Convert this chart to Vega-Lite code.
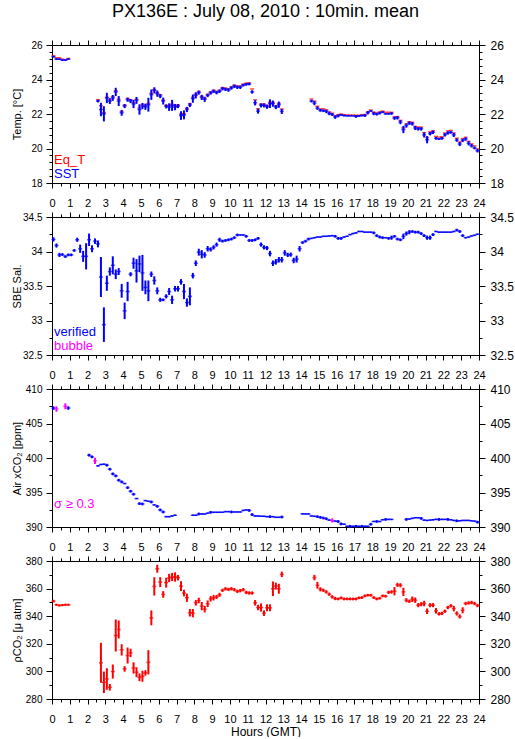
{
"$schema": "https://vega.github.io/schema/vega-lite/v6.json",
"autosize": {"type": "pad"},
"padding": {"left": 10, "top": 3, "right": 0, "bottom": 0},
"background": "white",
"title": {"text": "PX136E : July 08, 2010 : 10min. mean", "fontSize": 18, "fontWeight": "normal", "font": "Liberation Sans", "anchor": "middle", "frame": "group", "offset": 18, "color": "black"},
"config": {
  "font": "Liberation Sans",
  "view": {"stroke": null},
  "axis": {"labelFont": "Liberation Sans", "labelColor": "black", "tickColor": "black", "domainColor": "black", "grid": false, "labelOverlap": false, "labelFlush": false, "labelBound": false, "titleFontWeight": "normal", "titleColor": "black", "titleFont": "Liberation Sans", "tickWidth": 1, "domainWidth": 1},
  "legend": {"labelFont": "Liberation Sans"}
},
"datasets": {
"temp": [
{"t":0.083,"v":25.38,"e":0,"s":"Eq_T"},{"t":0.25,"v":25.26,"e":0,"s":"Eq_T"},{"t":0.417,"v":25.26,"e":0,"s":"Eq_T"},{"t":0.583,"v":25.18,"e":0,"s":"Eq_T"},{"t":0.75,"v":25.15,"e":0,"s":"Eq_T"},{"t":0.917,"v":25.22,"e":0,"s":"Eq_T"},
{"t":2.583,"v":22.83,"e":0,"s":"Eq_T"},{"t":2.75,"v":22.48,"e":0,"s":"Eq_T"},{"t":2.917,"v":22.08,"e":0,"s":"Eq_T"},{"t":3.083,"v":22.97,"e":0,"s":"Eq_T"},{"t":3.25,"v":22.83,"e":0,"s":"Eq_T"},{"t":3.417,"v":23.0,"e":0,"s":"Eq_T"},{"t":3.583,"v":23.35,"e":0,"s":"Eq_T"},{"t":3.75,"v":22.85,"e":0,"s":"Eq_T"},{"t":3.917,"v":22.15,"e":0,"s":"Eq_T"},{"t":4.083,"v":22.52,"e":0,"s":"Eq_T"},{"t":4.25,"v":22.9,"e":0,"s":"Eq_T"},{"t":4.417,"v":22.83,"e":0,"s":"Eq_T"},{"t":4.583,"v":22.65,"e":0,"s":"Eq_T"},{"t":4.75,"v":22.85,"e":0,"s":"Eq_T"},{"t":4.917,"v":22.35,"e":0,"s":"Eq_T"},{"t":5.083,"v":22.55,"e":0,"s":"Eq_T"},{"t":5.25,"v":22.5,"e":0,"s":"Eq_T"},{"t":5.417,"v":22.62,"e":0,"s":"Eq_T"},{"t":5.583,"v":23.2,"e":0,"s":"Eq_T"},{"t":5.75,"v":23.42,"e":0,"s":"Eq_T"},{"t":5.917,"v":23.25,"e":0,"s":"Eq_T"},{"t":6.083,"v":23.12,"e":0,"s":"Eq_T"},{"t":6.25,"v":22.8,"e":0,"s":"Eq_T"},{"t":6.417,"v":22.5,"e":0,"s":"Eq_T"},{"t":6.583,"v":22.47,"e":0,"s":"Eq_T"},{"t":6.75,"v":22.56,"e":0,"s":"Eq_T"},{"t":6.917,"v":22.47,"e":0,"s":"Eq_T"},{"t":7.083,"v":22.52,"e":0,"s":"Eq_T"},{"t":7.25,"v":22.0,"e":0,"s":"Eq_T"},{"t":7.417,"v":22.02,"e":0,"s":"Eq_T"},{"t":7.583,"v":22.33,"e":0,"s":"Eq_T"},{"t":7.75,"v":22.6,"e":0,"s":"Eq_T"},{"t":7.917,"v":22.97,"e":0,"s":"Eq_T"},{"t":8.083,"v":23.15,"e":0,"s":"Eq_T"},{"t":8.25,"v":23.3,"e":0,"s":"Eq_T"},{"t":8.417,"v":23.03,"e":0,"s":"Eq_T"},{"t":8.583,"v":22.92,"e":0,"s":"Eq_T"},{"t":8.75,"v":23.14,"e":0,"s":"Eq_T"},{"t":8.917,"v":23.28,"e":0,"s":"Eq_T"},{"t":9.083,"v":23.38,"e":0,"s":"Eq_T"},{"t":9.25,"v":23.3,"e":0,"s":"Eq_T"},{"t":9.417,"v":23.38,"e":0,"s":"Eq_T"},{"t":9.583,"v":23.53,"e":0,"s":"Eq_T"},{"t":9.75,"v":23.5,"e":0,"s":"Eq_T"},{"t":9.917,"v":23.46,"e":0,"s":"Eq_T"},{"t":10.083,"v":23.58,"e":0,"s":"Eq_T"},{"t":10.25,"v":23.67,"e":0,"s":"Eq_T"},{"t":10.417,"v":23.62,"e":0,"s":"Eq_T"},{"t":10.583,"v":23.62,"e":0,"s":"Eq_T"},{"t":10.75,"v":23.73,"e":0,"s":"Eq_T"},{"t":10.917,"v":23.79,"e":0,"s":"Eq_T"},{"t":11.083,"v":23.8,"e":0,"s":"Eq_T"},{"t":11.25,"v":23.45,"e":0,"s":"Eq_T"},{"t":11.417,"v":22.82,"e":0,"s":"Eq_T"},{"t":11.583,"v":22.3,"e":0,"s":"Eq_T"},{"t":11.75,"v":22.57,"e":0,"s":"Eq_T"},{"t":11.917,"v":22.57,"e":0,"s":"Eq_T"},{"t":12.083,"v":22.5,"e":0,"s":"Eq_T"},{"t":12.25,"v":22.67,"e":0,"s":"Eq_T"},{"t":12.417,"v":22.67,"e":0,"s":"Eq_T"},{"t":12.583,"v":22.47,"e":0,"s":"Eq_T"},{"t":12.75,"v":22.62,"e":0,"s":"Eq_T"},{"t":12.917,"v":22.28,"e":0,"s":"Eq_T"},
{"t":14.583,"v":22.87,"e":0,"s":"Eq_T"},{"t":14.75,"v":22.75,"e":0,"s":"Eq_T"},{"t":14.917,"v":22.45,"e":0,"s":"Eq_T"},{"t":15.083,"v":22.3,"e":0,"s":"Eq_T"},{"t":15.25,"v":22.3,"e":0,"s":"Eq_T"},{"t":15.417,"v":22.24,"e":0,"s":"Eq_T"},{"t":15.583,"v":22.12,"e":0,"s":"Eq_T"},{"t":15.75,"v":22.05,"e":0,"s":"Eq_T"},{"t":15.917,"v":21.9,"e":0,"s":"Eq_T"},{"t":16.083,"v":21.96,"e":0,"s":"Eq_T"},{"t":16.25,"v":22.0,"e":0,"s":"Eq_T"},{"t":16.417,"v":21.96,"e":0,"s":"Eq_T"},{"t":16.583,"v":21.94,"e":0,"s":"Eq_T"},{"t":16.75,"v":21.94,"e":0,"s":"Eq_T"},{"t":16.917,"v":21.94,"e":0,"s":"Eq_T"},{"t":17.083,"v":21.92,"e":0,"s":"Eq_T"},{"t":17.25,"v":21.93,"e":0,"s":"Eq_T"},{"t":17.417,"v":21.96,"e":0,"s":"Eq_T"},{"t":17.583,"v":21.97,"e":0,"s":"Eq_T"},{"t":17.75,"v":22.12,"e":0,"s":"Eq_T"},{"t":17.917,"v":22.23,"e":0,"s":"Eq_T"},{"t":18.083,"v":22.1,"e":0,"s":"Eq_T"},{"t":18.25,"v":22.06,"e":0,"s":"Eq_T"},{"t":18.417,"v":22.12,"e":0,"s":"Eq_T"},{"t":18.583,"v":22.17,"e":0,"s":"Eq_T"},{"t":18.75,"v":22.1,"e":0,"s":"Eq_T"},{"t":18.917,"v":22.1,"e":0,"s":"Eq_T"},{"t":19.083,"v":22.1,"e":0,"s":"Eq_T"},{"t":19.25,"v":21.83,"e":0,"s":"Eq_T"},{"t":19.417,"v":21.85,"e":0,"s":"Eq_T"},{"t":19.583,"v":21.63,"e":0,"s":"Eq_T"},{"t":19.75,"v":21.2,"e":0,"s":"Eq_T"},{"t":19.917,"v":21.42,"e":0,"s":"Eq_T"},{"t":20.083,"v":21.55,"e":0,"s":"Eq_T"},{"t":20.25,"v":21.52,"e":0,"s":"Eq_T"},{"t":20.417,"v":21.28,"e":0,"s":"Eq_T"},{"t":20.583,"v":21.24,"e":0,"s":"Eq_T"},{"t":20.75,"v":21.24,"e":0,"s":"Eq_T"},{"t":20.917,"v":20.92,"e":0,"s":"Eq_T"},{"t":21.083,"v":20.63,"e":0,"s":"Eq_T"},{"t":21.25,"v":20.97,"e":0,"s":"Eq_T"},{"t":21.417,"v":21.03,"e":0,"s":"Eq_T"},{"t":21.583,"v":20.7,"e":0,"s":"Eq_T"},{"t":21.75,"v":20.66,"e":0,"s":"Eq_T"},{"t":21.917,"v":20.68,"e":0,"s":"Eq_T"},{"t":22.083,"v":20.9,"e":0,"s":"Eq_T"},{"t":22.25,"v":21.02,"e":0,"s":"Eq_T"},{"t":22.417,"v":21.05,"e":0,"s":"Eq_T"},{"t":22.583,"v":20.9,"e":0,"s":"Eq_T"},{"t":22.75,"v":20.6,"e":0,"s":"Eq_T"},{"t":22.917,"v":20.38,"e":0,"s":"Eq_T"},{"t":23.083,"v":20.57,"e":0,"s":"Eq_T"},{"t":23.25,"v":20.65,"e":0,"s":"Eq_T"},{"t":23.417,"v":20.42,"e":0,"s":"Eq_T"},{"t":23.583,"v":20.27,"e":0,"s":"Eq_T"},{"t":23.75,"v":20.15,"e":0,"s":"Eq_T"},{"t":23.917,"v":19.98,"e":0,"s":"Eq_T"},
{"t":0.083,"v":25.32,"e":0.05,"s":"SST"},{"t":0.25,"v":25.18,"e":0.05,"s":"SST"},{"t":0.417,"v":25.18,"e":0.05,"s":"SST"},{"t":0.583,"v":25.12,"e":0.05,"s":"SST"},{"t":0.75,"v":25.12,"e":0.05,"s":"SST"},{"t":0.917,"v":25.18,"e":0.05,"s":"SST"},
{"t":2.583,"v":22.75,"e":0.08,"s":"SST"},{"t":2.75,"v":22.26,"e":0.39,"s":"SST"},{"t":2.917,"v":22.01,"e":0.44,"s":"SST"},{"t":3.083,"v":22.93,"e":0.3,"s":"SST"},{"t":3.25,"v":22.75,"e":0.17,"s":"SST"},{"t":3.417,"v":22.93,"e":0.17,"s":"SST"},{"t":3.583,"v":23.28,"e":0.24,"s":"SST"},{"t":3.75,"v":22.75,"e":0.29,"s":"SST"},{"t":3.917,"v":22.07,"e":0.17,"s":"SST"},{"t":4.083,"v":22.46,"e":0.12,"s":"SST"},{"t":4.25,"v":22.83,"e":0.12,"s":"SST"},{"t":4.417,"v":22.75,"e":0.12,"s":"SST"},{"t":4.583,"v":22.58,"e":0.24,"s":"SST"},{"t":4.75,"v":22.79,"e":0.2,"s":"SST"},{"t":4.917,"v":22.26,"e":0.3,"s":"SST"},{"t":5.083,"v":22.46,"e":0.18,"s":"SST"},{"t":5.25,"v":22.42,"e":0.18,"s":"SST"},{"t":5.417,"v":22.54,"e":0.4,"s":"SST"},{"t":5.583,"v":23.12,"e":0.3,"s":"SST"},{"t":5.75,"v":23.37,"e":0.18,"s":"SST"},{"t":5.917,"v":23.18,"e":0.18,"s":"SST"},{"t":6.083,"v":23.04,"e":0.12,"s":"SST"},{"t":6.25,"v":22.75,"e":0.2,"s":"SST"},{"t":6.417,"v":22.44,"e":0.12,"s":"SST"},{"t":6.583,"v":22.4,"e":0.22,"s":"SST"},{"t":6.75,"v":22.5,"e":0.32,"s":"SST"},{"t":6.917,"v":22.4,"e":0.18,"s":"SST"},{"t":7.083,"v":22.46,"e":0.12,"s":"SST"},{"t":7.25,"v":21.91,"e":0.25,"s":"SST"},{"t":7.417,"v":21.95,"e":0.26,"s":"SST"},{"t":7.583,"v":22.26,"e":0.15,"s":"SST"},{"t":7.75,"v":22.52,"e":0.12,"s":"SST"},{"t":7.917,"v":22.89,"e":0.24,"s":"SST"},{"t":8.083,"v":23.08,"e":0.18,"s":"SST"},{"t":8.25,"v":23.24,"e":0.12,"s":"SST"},{"t":8.417,"v":22.96,"e":0.15,"s":"SST"},{"t":8.583,"v":22.85,"e":0.15,"s":"SST"},{"t":8.75,"v":23.08,"e":0.1,"s":"SST"},{"t":8.917,"v":23.22,"e":0.1,"s":"SST"},{"t":9.083,"v":23.32,"e":0.1,"s":"SST"},{"t":9.25,"v":23.24,"e":0.1,"s":"SST"},{"t":9.417,"v":23.32,"e":0.1,"s":"SST"},{"t":9.583,"v":23.47,"e":0.1,"s":"SST"},{"t":9.75,"v":23.43,"e":0.1,"s":"SST"},{"t":9.917,"v":23.39,"e":0.1,"s":"SST"},{"t":10.083,"v":23.51,"e":0.1,"s":"SST"},{"t":10.25,"v":23.61,"e":0.1,"s":"SST"},{"t":10.417,"v":23.55,"e":0.1,"s":"SST"},{"t":10.583,"v":23.55,"e":0.1,"s":"SST"},{"t":10.75,"v":23.67,"e":0.08,"s":"SST"},{"t":10.917,"v":23.72,"e":0.08,"s":"SST"},{"t":11.083,"v":23.74,"e":0.08,"s":"SST"},{"t":11.25,"v":23.28,"e":0.1,"s":"SST"},{"t":11.417,"v":22.65,"e":0.15,"s":"SST"},{"t":11.583,"v":22.17,"e":0.15,"s":"SST"},{"t":11.75,"v":22.5,"e":0.12,"s":"SST"},{"t":11.917,"v":22.5,"e":0.12,"s":"SST"},{"t":12.083,"v":22.42,"e":0.12,"s":"SST"},{"t":12.25,"v":22.6,"e":0.25,"s":"SST"},{"t":12.417,"v":22.6,"e":0.18,"s":"SST"},{"t":12.583,"v":22.4,"e":0.12,"s":"SST"},{"t":12.75,"v":22.54,"e":0.18,"s":"SST"},{"t":12.917,"v":22.15,"e":0.15,"s":"SST"},
{"t":14.583,"v":22.75,"e":0.08,"s":"SST"},{"t":14.75,"v":22.63,"e":0.12,"s":"SST"},{"t":14.917,"v":22.34,"e":0.1,"s":"SST"},{"t":15.083,"v":22.21,"e":0.08,"s":"SST"},{"t":15.25,"v":22.19,"e":0.08,"s":"SST"},{"t":15.417,"v":22.15,"e":0.1,"s":"SST"},{"t":15.583,"v":22.03,"e":0.1,"s":"SST"},{"t":15.75,"v":21.97,"e":0.08,"s":"SST"},{"t":15.917,"v":21.82,"e":0.1,"s":"SST"},{"t":16.083,"v":21.89,"e":0.08,"s":"SST"},{"t":16.25,"v":21.95,"e":0.05,"s":"SST"},{"t":16.417,"v":21.91,"e":0.05,"s":"SST"},{"t":16.583,"v":21.89,"e":0.03,"s":"SST"},{"t":16.75,"v":21.89,"e":0.03,"s":"SST"},{"t":16.917,"v":21.89,"e":0.03,"s":"SST"},{"t":17.083,"v":21.86,"e":0.08,"s":"SST"},{"t":17.25,"v":21.88,"e":0.05,"s":"SST"},{"t":17.417,"v":21.91,"e":0.05,"s":"SST"},{"t":17.583,"v":21.91,"e":0.08,"s":"SST"},{"t":17.75,"v":22.07,"e":0.1,"s":"SST"},{"t":17.917,"v":22.17,"e":0.05,"s":"SST"},{"t":18.083,"v":22.03,"e":0.1,"s":"SST"},{"t":18.25,"v":21.99,"e":0.08,"s":"SST"},{"t":18.417,"v":22.05,"e":0.08,"s":"SST"},{"t":18.583,"v":22.11,"e":0.05,"s":"SST"},{"t":18.75,"v":22.01,"e":0.05,"s":"SST"},{"t":18.917,"v":22.01,"e":0.05,"s":"SST"},{"t":19.083,"v":22.03,"e":0.08,"s":"SST"},{"t":19.25,"v":21.76,"e":0.1,"s":"SST"},{"t":19.417,"v":21.78,"e":0.1,"s":"SST"},{"t":19.583,"v":21.53,"e":0.12,"s":"SST"},{"t":19.75,"v":21.1,"e":0.21,"s":"SST"},{"t":19.917,"v":21.33,"e":0.12,"s":"SST"},{"t":20.083,"v":21.47,"e":0.1,"s":"SST"},{"t":20.25,"v":21.43,"e":0.1,"s":"SST"},{"t":20.417,"v":21.19,"e":0.12,"s":"SST"},{"t":20.583,"v":21.14,"e":0.1,"s":"SST"},{"t":20.75,"v":21.14,"e":0.1,"s":"SST"},{"t":20.917,"v":20.79,"e":0.15,"s":"SST"},{"t":21.083,"v":20.51,"e":0.21,"s":"SST"},{"t":21.25,"v":20.86,"e":0.1,"s":"SST"},{"t":21.417,"v":20.94,"e":0.1,"s":"SST"},{"t":21.583,"v":20.59,"e":0.08,"s":"SST"},{"t":21.75,"v":20.55,"e":0.05,"s":"SST"},{"t":21.917,"v":20.59,"e":0.08,"s":"SST"},{"t":22.083,"v":20.79,"e":0.1,"s":"SST"},{"t":22.25,"v":20.9,"e":0.1,"s":"SST"},{"t":22.417,"v":20.94,"e":0.08,"s":"SST"},{"t":22.583,"v":20.79,"e":0.12,"s":"SST"},{"t":22.75,"v":20.49,"e":0.1,"s":"SST"},{"t":22.917,"v":20.26,"e":0.12,"s":"SST"},{"t":23.083,"v":20.47,"e":0.1,"s":"SST"},{"t":23.25,"v":20.55,"e":0.1,"s":"SST"},{"t":23.417,"v":20.3,"e":0.12,"s":"SST"},{"t":23.583,"v":20.16,"e":0.1,"s":"SST"},{"t":23.75,"v":20.03,"e":0.08,"s":"SST"},{"t":23.917,"v":19.87,"e":0.1,"s":"SST"}
],
"sal": [
{"t":0.083,"v":34.175,"e":0.03,"s":"verified"},{"t":0.25,"v":34.087,"e":0.03,"s":"verified"},{"t":0.417,"v":33.951,"e":0.03,"s":"verified"},{"t":0.583,"v":33.956,"e":0.02,"s":"verified"},{"t":0.75,"v":33.927,"e":0.02,"s":"verified"},{"t":0.917,"v":33.951,"e":0.02,"s":"verified"},{"t":1.083,"v":33.951,"e":0.02,"s":"verified"},{"t":1.25,"v":34.015,"e":0.02,"s":"verified"},{"t":1.417,"v":34.17,"e":0.03,"s":"verified"},{"t":1.583,"v":34.04,"e":0.06,"s":"verified"},{"t":1.75,"v":33.93,"e":0.08,"s":"verified"},{"t":1.917,"v":33.93,"e":0.19,"s":"verified"},{"t":2.083,"v":34.17,"e":0.09,"s":"verified"},{"t":2.25,"v":34.04,"e":0.05,"s":"verified"},{"t":2.417,"v":34.15,"e":0.04,"s":"verified"},{"t":2.583,"v":34.11,"e":0.05,"s":"verified"},{"t":2.75,"v":33.63,"e":0.29,"s":"verified"},{"t":2.917,"v":32.94,"e":0.25,"s":"verified"},{"t":3.083,"v":33.54,"e":0.11,"s":"verified"},{"t":3.25,"v":33.71,"e":0.06,"s":"verified"},{"t":3.417,"v":33.8,"e":0.13,"s":"verified"},{"t":3.583,"v":33.67,"e":0.07,"s":"verified"},{"t":3.75,"v":33.71,"e":0.05,"s":"verified"},{"t":3.917,"v":33.43,"e":0.1,"s":"verified"},{"t":4.083,"v":33.14,"e":0.12,"s":"verified"},{"t":4.25,"v":33.42,"e":0.14,"s":"verified"},{"t":4.417,"v":33.67,"e":0.03,"s":"verified"},{"t":4.583,"v":33.83,"e":0.08,"s":"verified"},{"t":4.75,"v":33.72,"e":0.17,"s":"verified"},{"t":4.917,"v":33.82,"e":0.12,"s":"verified"},{"t":5.083,"v":33.69,"e":0.26,"s":"verified"},{"t":5.25,"v":33.48,"e":0.1,"s":"verified"},{"t":5.417,"v":33.43,"e":0.15,"s":"verified"},{"t":5.583,"v":33.67,"e":0.04,"s":"verified"},{"t":5.75,"v":33.58,"e":0.06,"s":"verified"},{"t":5.917,"v":33.43,"e":0.05,"s":"verified"},{"t":6.083,"v":33.3,"e":0.03,"s":"verified"},{"t":6.25,"v":33.3,"e":0.02,"s":"verified"},{"t":6.417,"v":33.35,"e":0.03,"s":"verified"},{"t":6.583,"v":33.42,"e":0.05,"s":"verified"},{"t":6.75,"v":33.3,"e":0.06,"s":"verified"},{"t":6.917,"v":33.46,"e":0.04,"s":"verified"},{"t":7.083,"v":33.46,"e":0.04,"s":"verified"},{"t":7.25,"v":33.56,"e":0.04,"s":"verified"},{"t":7.417,"v":33.42,"e":0.11,"s":"verified"},{"t":7.583,"v":33.26,"e":0.06,"s":"verified"},{"t":7.75,"v":33.35,"e":0.13,"s":"verified"},{"t":7.917,"v":33.65,"e":0.04,"s":"verified"},{"t":8.083,"v":33.83,"e":0.04,"s":"verified"},{"t":8.25,"v":33.99,"e":0.05,"s":"verified"},{"t":8.417,"v":33.96,"e":0.06,"s":"verified"},{"t":8.583,"v":33.95,"e":0.04,"s":"verified"},{"t":8.75,"v":34.04,"e":0.04,"s":"verified"},{"t":8.917,"v":34.03,"e":0.03,"s":"verified"},{"t":9.083,"v":34.06,"e":0.03,"s":"verified"},{"t":9.25,"v":34.1,"e":0.03,"s":"verified"},{"t":9.417,"v":34.17,"e":0.03,"s":"verified"},{"t":9.583,"v":34.15,"e":0.02,"s":"verified"},{"t":9.75,"v":34.16,"e":0.02,"s":"verified"},{"t":9.917,"v":34.17,"e":0.02,"s":"verified"},{"t":10.083,"v":34.18,"e":0.02,"s":"verified"},{"t":10.25,"v":34.2,"e":0.02,"s":"verified"},{"t":10.417,"v":34.24,"e":0.02,"s":"verified"},{"t":10.583,"v":34.24,"e":0.01,"s":"verified"},{"t":10.75,"v":34.24,"e":0.01,"s":"verified"},{"t":10.917,"v":34.22,"e":0.02,"s":"verified"},{"t":11.083,"v":34.16,"e":0.02,"s":"verified"},{"t":11.25,"v":34.16,"e":0.02,"s":"verified"},{"t":11.417,"v":34.17,"e":0.02,"s":"verified"},{"t":11.583,"v":34.19,"e":0.02,"s":"verified"},{"t":11.75,"v":34.1,"e":0.03,"s":"verified"},{"t":11.917,"v":34.06,"e":0.03,"s":"verified"},{"t":12.083,"v":34.05,"e":0.03,"s":"verified"},{"t":12.25,"v":33.97,"e":0.04,"s":"verified"},{"t":12.417,"v":33.83,"e":0.04,"s":"verified"},{"t":12.583,"v":33.85,"e":0.04,"s":"verified"},{"t":12.75,"v":33.88,"e":0.04,"s":"verified"},{"t":12.917,"v":33.88,"e":0.04,"s":"verified"},{"t":13.083,"v":33.98,"e":0.04,"s":"verified"},{"t":13.25,"v":33.95,"e":0.03,"s":"verified"},{"t":13.417,"v":33.955,"e":0.03,"s":"verified"},{"t":13.583,"v":33.87,"e":0.04,"s":"verified"},{"t":13.75,"v":33.89,"e":0.05,"s":"verified"},{"t":13.917,"v":34.04,"e":0.04,"s":"verified"},{"t":14.083,"v":34.13,"e":0.02,"s":"verified"},{"t":14.25,"v":34.15,"e":0.02,"s":"verified"},{"t":14.417,"v":34.18,"e":0.02,"s":"verified"},{"t":14.583,"v":34.19,"e":0.01,"s":"verified"},{"t":14.75,"v":34.2,"e":0.01,"s":"verified"},{"t":14.917,"v":34.21,"e":0.01,"s":"verified"},{"t":15.083,"v":34.21,"e":0.01,"s":"verified"},{"t":15.25,"v":34.22,"e":0.01,"s":"verified"},{"t":15.417,"v":34.22,"e":0.01,"s":"verified"},{"t":15.583,"v":34.225,"e":0.01,"s":"verified"},{"t":15.75,"v":34.23,"e":0.01,"s":"verified"},{"t":15.917,"v":34.22,"e":0.02,"s":"verified"},{"t":16.083,"v":34.19,"e":0.02,"s":"verified"},{"t":16.25,"v":34.19,"e":0.02,"s":"verified"},{"t":16.417,"v":34.21,"e":0.01,"s":"verified"},{"t":16.583,"v":34.22,"e":0.01,"s":"verified"},{"t":16.75,"v":34.245,"e":0.01,"s":"verified"},{"t":16.917,"v":34.26,"e":0.01,"s":"verified"},{"t":17.083,"v":34.27,"e":0.01,"s":"verified"},{"t":17.25,"v":34.29,"e":0.01,"s":"verified"},{"t":17.417,"v":34.29,"e":0.01,"s":"verified"},{"t":17.583,"v":34.28,"e":0.01,"s":"verified"},{"t":17.75,"v":34.28,"e":0.01,"s":"verified"},{"t":17.917,"v":34.28,"e":0.01,"s":"verified"},{"t":18.083,"v":34.27,"e":0.02,"s":"verified"},{"t":18.25,"v":34.23,"e":0.02,"s":"verified"},{"t":18.417,"v":34.21,"e":0.02,"s":"verified"},{"t":18.583,"v":34.2,"e":0.02,"s":"verified"},{"t":18.75,"v":34.2,"e":0.01,"s":"verified"},{"t":18.917,"v":34.19,"e":0.02,"s":"verified"},{"t":19.083,"v":34.2,"e":0.03,"s":"verified"},{"t":19.25,"v":34.22,"e":0.02,"s":"verified"},{"t":19.417,"v":34.18,"e":0.02,"s":"verified"},{"t":19.583,"v":34.17,"e":0.02,"s":"verified"},{"t":19.75,"v":34.22,"e":0.04,"s":"verified"},{"t":19.917,"v":34.26,"e":0.03,"s":"verified"},{"t":20.083,"v":34.28,"e":0.03,"s":"verified"},{"t":20.25,"v":34.29,"e":0.02,"s":"verified"},{"t":20.417,"v":34.28,"e":0.02,"s":"verified"},{"t":20.583,"v":34.28,"e":0.02,"s":"verified"},{"t":20.75,"v":34.26,"e":0.02,"s":"verified"},{"t":20.917,"v":34.23,"e":0.02,"s":"verified"},{"t":21.083,"v":34.2,"e":0.03,"s":"verified"},{"t":21.25,"v":34.2,"e":0.03,"s":"verified"},{"t":21.417,"v":34.245,"e":0.02,"s":"verified"},{"t":21.583,"v":34.29,"e":0.01,"s":"verified"},{"t":21.75,"v":34.28,"e":0.01,"s":"verified"},{"t":21.917,"v":34.28,"e":0.01,"s":"verified"},{"t":22.083,"v":34.28,"e":0.01,"s":"verified"},{"t":22.25,"v":34.28,"e":0.01,"s":"verified"},{"t":22.417,"v":34.28,"e":0.01,"s":"verified"},{"t":22.583,"v":34.29,"e":0.01,"s":"verified"},{"t":22.75,"v":34.31,"e":0.02,"s":"verified"},{"t":22.917,"v":34.29,"e":0.02,"s":"verified"},{"t":23.083,"v":34.23,"e":0.02,"s":"verified"},{"t":23.25,"v":34.2,"e":0.01,"s":"verified"},{"t":23.417,"v":34.21,"e":0.01,"s":"verified"},{"t":23.583,"v":34.225,"e":0.01,"s":"verified"},{"t":23.75,"v":34.235,"e":0.01,"s":"verified"},{"t":23.917,"v":34.25,"e":0.01,"s":"verified"}
],
"xco2": [
{"t":0.083,"v":407.24,"e":0.25,"s":"ok"},{"t":0.25,"v":407.1,"e":0.39,"s":"σ ≥ 0.3"},{"t":0.75,"v":407.5,"e":0.43,"s":"σ ≥ 0.3"},{"t":0.917,"v":407.24,"e":0.25,"s":"ok"},
{"t":2.083,"v":400.41,"e":0.2,"s":"ok"},{"t":2.25,"v":400.17,"e":0.2,"s":"ok"},{"t":2.417,"v":399.59,"e":0.45,"s":"σ ≥ 0.3"},{"t":2.583,"v":398.86,"e":0.1,"s":"ok"},{"t":2.75,"v":399.06,"e":0.1,"s":"ok"},{"t":2.917,"v":399.1,"e":0.1,"s":"ok"},{"t":3.083,"v":398.96,"e":0.2,"s":"ok"},{"t":3.25,"v":398.38,"e":0.2,"s":"ok"},{"t":3.417,"v":397.7,"e":0.2,"s":"ok"},{"t":3.583,"v":397.41,"e":0.2,"s":"ok"},{"t":3.75,"v":396.78,"e":0.2,"s":"ok"},{"t":3.917,"v":396.54,"e":0.2,"s":"ok"},{"t":4.083,"v":396.3,"e":0.1,"s":"ok"},{"t":4.25,"v":395.71,"e":0.2,"s":"ok"},{"t":4.417,"v":395.18,"e":0.2,"s":"ok"},{"t":4.583,"v":394.75,"e":0.2,"s":"ok"},{"t":4.75,"v":394.12,"e":0.1,"s":"ok"},{"t":4.917,"v":393.39,"e":0.2,"s":"ok"},{"t":5.083,"v":393.34,"e":0.2,"s":"ok"},{"t":5.25,"v":393.83,"e":0.1,"s":"ok"},{"t":5.417,"v":393.73,"e":0.1,"s":"ok"},{"t":5.583,"v":393.63,"e":0.2,"s":"ok"},{"t":5.75,"v":393.2,"e":0.1,"s":"ok"},{"t":5.917,"v":393.0,"e":0.2,"s":"ok"},{"t":6.083,"v":392.47,"e":0.2,"s":"ok"},{"t":6.25,"v":392.18,"e":0.2,"s":"ok"},{"t":6.417,"v":391.5,"e":0.1,"s":"ok"},{"t":6.583,"v":391.5,"e":0.1,"s":"ok"},{"t":6.75,"v":391.6,"e":0.1,"s":"ok"},{"t":6.917,"v":391.7,"e":0.1,"s":"ok"},
{"t":7.917,"v":391.7,"e":0.1,"s":"ok"},{"t":8.083,"v":391.7,"e":0.1,"s":"ok"},{"t":8.25,"v":391.89,"e":0.2,"s":"ok"},{"t":8.417,"v":391.89,"e":0.1,"s":"ok"},{"t":8.583,"v":391.89,"e":0.1,"s":"ok"},{"t":8.75,"v":392.0,"e":0.1,"s":"ok"},{"t":8.917,"v":392.13,"e":0.2,"s":"ok"},{"t":9.083,"v":392.13,"e":0.1,"s":"ok"},{"t":9.25,"v":392.13,"e":0.1,"s":"ok"},{"t":9.417,"v":392.13,"e":0.1,"s":"ok"},{"t":9.583,"v":392.13,"e":0.1,"s":"ok"},{"t":9.75,"v":392.23,"e":0.1,"s":"ok"},{"t":9.917,"v":392.23,"e":0.1,"s":"ok"},{"t":10.083,"v":392.18,"e":0.2,"s":"ok"},{"t":10.25,"v":392.18,"e":0.1,"s":"ok"},{"t":10.417,"v":392.18,"e":0.1,"s":"ok"},{"t":10.583,"v":392.18,"e":0.1,"s":"ok"},{"t":10.75,"v":392.4,"e":0.1,"s":"ok"},{"t":10.917,"v":392.47,"e":0.1,"s":"ok"},{"t":11.083,"v":392.4,"e":0.2,"s":"ok"},{"t":11.25,"v":391.8,"e":0.2,"s":"ok"},{"t":11.417,"v":391.6,"e":0.1,"s":"ok"},{"t":11.583,"v":391.6,"e":0.1,"s":"ok"},{"t":11.75,"v":391.55,"e":0.1,"s":"ok"},{"t":11.917,"v":391.55,"e":0.1,"s":"ok"},{"t":12.083,"v":391.5,"e":0.1,"s":"ok"},{"t":12.25,"v":391.5,"e":0.2,"s":"ok"},{"t":12.417,"v":391.5,"e":0.1,"s":"ok"},{"t":12.583,"v":391.4,"e":0.1,"s":"ok"},{"t":12.75,"v":391.4,"e":0.1,"s":"ok"},{"t":12.917,"v":391.45,"e":0.2,"s":"ok"},
{"t":14.083,"v":391.9,"e":0.1,"s":"ok"},{"t":14.25,"v":391.9,"e":0.1,"s":"ok"},{"t":14.417,"v":391.9,"e":0.1,"s":"ok"},{"t":14.583,"v":391.6,"e":0.1,"s":"ok"},{"t":14.75,"v":391.55,"e":0.1,"s":"ok"},{"t":14.917,"v":391.5,"e":0.2,"s":"ok"},{"t":15.083,"v":391.4,"e":0.2,"s":"ok"},{"t":15.25,"v":391.3,"e":0.2,"s":"ok"},{"t":15.417,"v":391.2,"e":0.2,"s":"ok"},{"t":15.583,"v":391.0,"e":0.1,"s":"ok"},{"t":15.75,"v":390.95,"e":0.3,"s":"σ ≥ 0.3"},{"t":15.917,"v":390.85,"e":0.1,"s":"ok"},{"t":16.083,"v":390.8,"e":0.2,"s":"ok"},{"t":16.25,"v":390.45,"e":0.2,"s":"ok"},{"t":16.417,"v":390.4,"e":0.1,"s":"ok"},{"t":16.583,"v":390.1,"e":0.1,"s":"ok"},{"t":16.75,"v":390.1,"e":0.2,"s":"ok"},{"t":16.917,"v":390.1,"e":0.1,"s":"ok"},{"t":17.083,"v":390.1,"e":0.2,"s":"ok"},{"t":17.25,"v":390.1,"e":0.1,"s":"ok"},{"t":17.417,"v":390.1,"e":0.2,"s":"ok"},{"t":17.583,"v":390.1,"e":0.1,"s":"ok"},{"t":17.75,"v":390.1,"e":0.1,"s":"ok"},{"t":17.917,"v":390.4,"e":0.2,"s":"ok"},{"t":18.083,"v":390.8,"e":0.1,"s":"ok"},{"t":18.25,"v":390.8,"e":0.2,"s":"ok"},{"t":18.417,"v":390.8,"e":0.1,"s":"ok"},{"t":18.583,"v":391.05,"e":0.1,"s":"ok"},{"t":18.75,"v":391.1,"e":0.2,"s":"ok"},{"t":18.917,"v":391.1,"e":0.1,"s":"ok"},{"t":19.083,"v":391.1,"e":0.1,"s":"ok"},
{"t":19.917,"v":391.1,"e":0.2,"s":"ok"},{"t":20.083,"v":391.15,"e":0.1,"s":"ok"},{"t":20.25,"v":391.25,"e":0.1,"s":"ok"},{"t":20.417,"v":391.35,"e":0.1,"s":"ok"},{"t":20.583,"v":391.35,"e":0.1,"s":"ok"},{"t":20.75,"v":391.25,"e":0.2,"s":"ok"},{"t":20.917,"v":391.0,"e":0.1,"s":"ok"},{"t":21.083,"v":390.95,"e":0.1,"s":"ok"},{"t":21.25,"v":391.0,"e":0.1,"s":"ok"},{"t":21.417,"v":391.05,"e":0.1,"s":"ok"},{"t":21.583,"v":391.1,"e":0.1,"s":"ok"},{"t":21.75,"v":391.1,"e":0.2,"s":"ok"},{"t":21.917,"v":391.1,"e":0.1,"s":"ok"},{"t":22.083,"v":391.1,"e":0.1,"s":"ok"},{"t":22.25,"v":391.1,"e":0.2,"s":"ok"},{"t":22.417,"v":391.05,"e":0.1,"s":"ok"},{"t":22.583,"v":390.95,"e":0.1,"s":"ok"},{"t":22.75,"v":390.9,"e":0.2,"s":"ok"},{"t":22.917,"v":390.9,"e":0.1,"s":"ok"},{"t":23.083,"v":390.95,"e":0.1,"s":"ok"},{"t":23.25,"v":390.95,"e":0.1,"s":"ok"},{"t":23.417,"v":390.95,"e":0.1,"s":"ok"},{"t":23.583,"v":390.9,"e":0.1,"s":"ok"},{"t":23.75,"v":390.85,"e":0.1,"s":"ok"},{"t":23.917,"v":390.7,"e":0.2,"s":"ok"}
],
"pco2": [
{"t":0.083,"v":350.9,"e":1},{"t":0.25,"v":348.3,"e":0.8},{"t":0.417,"v":347.8,"e":0.8},{"t":0.583,"v":348.0,"e":0.8},{"t":0.75,"v":348.3,"e":0.8},{"t":0.917,"v":348.3,"e":0.8},
{"t":2.75,"v":306.2,"e":14.5},{"t":2.917,"v":292.1,"e":7.8},{"t":3.083,"v":294.5,"e":7.8},{"t":3.25,"v":288.5,"e":2.4},{"t":3.417,"v":299.9,"e":5.1},{"t":3.583,"v":326.0,"e":11.6},{"t":3.75,"v":330.4,"e":6.5},{"t":3.917,"v":315.6,"e":4.1},{"t":4.083,"v":301.8,"e":2},{"t":4.25,"v":311.5,"e":5.8},{"t":4.417,"v":313.4,"e":3},{"t":4.583,"v":302.5,"e":4.1},{"t":4.75,"v":299.4,"e":3.6},{"t":4.917,"v":295.7,"e":2.8},{"t":5.083,"v":296.5,"e":4},{"t":5.25,"v":298.9,"e":2},{"t":5.417,"v":306.6,"e":8.8},{"t":5.583,"v":338.8,"e":5.4},{"t":5.75,"v":361.6,"e":6.6},{"t":5.917,"v":374.4,"e":2.9},{"t":6.083,"v":364.7,"e":3.6},{"t":6.25,"v":355.8,"e":2.4},{"t":6.417,"v":364.3,"e":3.6},{"t":6.583,"v":367.7,"e":3},{"t":6.75,"v":368.4,"e":3},{"t":6.917,"v":368.4,"e":3.4},{"t":7.083,"v":367.9,"e":2},{"t":7.25,"v":361.8,"e":3.6},{"t":7.417,"v":356.8,"e":2.4},{"t":7.583,"v":353.4,"e":3},{"t":7.75,"v":342.5,"e":2.7},{"t":7.917,"v":342.2,"e":3},{"t":8.083,"v":349.7,"e":2},{"t":8.25,"v":351.4,"e":2},{"t":8.417,"v":347.3,"e":3},{"t":8.583,"v":345.1,"e":2.4},{"t":8.75,"v":349.0,"e":2.4},{"t":8.917,"v":352.6,"e":2},{"t":9.083,"v":353.4,"e":2},{"t":9.25,"v":353.9,"e":1.5},{"t":9.417,"v":355.5,"e":1.5},{"t":9.583,"v":358.7,"e":1.2},{"t":9.75,"v":359.9,"e":1.2},{"t":9.917,"v":359.4,"e":1.2},{"t":10.083,"v":359.9,"e":1.2},{"t":10.25,"v":359.2,"e":1.2},{"t":10.417,"v":358.0,"e":1.2},{"t":10.583,"v":358.5,"e":1.2},{"t":10.75,"v":359.2,"e":1.2},{"t":10.917,"v":357.2,"e":1.2},{"t":11.083,"v":356.8,"e":1.2},{"t":11.25,"v":356.8,"e":1.2},{"t":11.417,"v":349.7,"e":2},{"t":11.583,"v":346.3,"e":2},{"t":11.75,"v":346.3,"e":3},{"t":11.917,"v":342.2,"e":2},{"t":12.083,"v":346.1,"e":2.5},{"t":12.25,"v":346.1,"e":2.5},{"t":12.417,"v":359.9,"e":5.3},{"t":12.583,"v":361.8,"e":2.5},{"t":12.75,"v":359.9,"e":3.6},{"t":12.917,"v":370.3,"e":2},
{"t":14.75,"v":368.0,"e":2},{"t":14.917,"v":362.4,"e":2.5},{"t":15.083,"v":359.5,"e":1.5},{"t":15.25,"v":358.8,"e":1.2},{"t":15.417,"v":357.6,"e":1.2},{"t":15.583,"v":355.9,"e":1.2},{"t":15.75,"v":354.0,"e":1.2},{"t":15.917,"v":352.8,"e":1.2},{"t":16.083,"v":352.5,"e":1},{"t":16.25,"v":353.3,"e":1},{"t":16.417,"v":352.5,"e":1},{"t":16.583,"v":352.5,"e":1},{"t":16.75,"v":352.5,"e":1},{"t":16.917,"v":352.5,"e":1},{"t":17.083,"v":352.5,"e":1},{"t":17.25,"v":353.3,"e":1},{"t":17.417,"v":353.5,"e":1},{"t":17.583,"v":354.7,"e":1},{"t":17.75,"v":355.2,"e":1},{"t":17.917,"v":355.2,"e":1},{"t":18.083,"v":353.5,"e":1},{"t":18.25,"v":352.5,"e":1},{"t":18.417,"v":353.0,"e":1},{"t":18.583,"v":354.7,"e":1},{"t":18.75,"v":354.5,"e":1},{"t":18.917,"v":357.3,"e":1.2},{"t":19.083,"v":357.6,"e":1.2},{"t":19.25,"v":358.1,"e":3},{"t":19.417,"v":362.7,"e":1.5},{"t":19.583,"v":362.4,"e":1.5},{"t":19.75,"v":357.6,"e":3},{"t":19.917,"v":351.6,"e":1.5},{"t":20.083,"v":350.8,"e":1.2},{"t":20.25,"v":352.3,"e":2},{"t":20.417,"v":351.6,"e":2},{"t":20.583,"v":348.0,"e":1.5},{"t":20.75,"v":348.7,"e":1.5},{"t":20.917,"v":349.2,"e":2},{"t":21.083,"v":343.6,"e":2},{"t":21.25,"v":348.0,"e":1.5},{"t":21.417,"v":348.0,"e":1.5},{"t":21.583,"v":343.9,"e":2},{"t":21.75,"v":341.7,"e":1.2},{"t":21.917,"v":342.0,"e":1.2},{"t":22.083,"v":343.6,"e":1.2},{"t":22.25,"v":346.3,"e":1.2},{"t":22.417,"v":347.5,"e":1.2},{"t":22.583,"v":345.5,"e":2},{"t":22.75,"v":342.0,"e":1.5},{"t":22.917,"v":339.8,"e":1.5},{"t":23.083,"v":344.3,"e":2.2},{"t":23.25,"v":349.2,"e":1.2},{"t":23.417,"v":349.6,"e":1.2},{"t":23.583,"v":349.9,"e":1.2},{"t":23.75,"v":349.2,"e":1.2},{"t":23.917,"v":347.7,"e":1.2}
]
},
"vconcat": [
{
  "width": 427, "height": 138,
  "data": {"name": "temp"},
  "layer": [
    {"mark": {"type": "tick", "orient": "horizontal", "size": 4, "thickness": 1.5},
     "encoding": {
       "x": {"field": "t", "type": "quantitative", "scale": {"domain": [0, 24], "nice": false, "zero": false},
             "axis": {"orient": "bottom", "values": [0,0.5,1,1.5,2,2.5,3,3.5,4,4.5,5,5.5,6,6.5,7,7.5,8,8.5,9,9.5,10,10.5,11,11.5,12,12.5,13,13.5,14,14.5,15,15.5,16,16.5,17,17.5,18,18.5,19,19.5,20,20.5,21,21.5,22,22.5,23,23.5,24], "labelExpr": "datum.value % 1 === 0 ? '' + datum.value : ''", "tickSize": {"condition": {"test": "datum.value % 1 === 0", "value": 5}, "value": 3}, "labelFontSize": 11, "labelPadding": 9, "title": null}},
       "y": {"field": "v", "type": "quantitative", "scale": {"domain": [18, 26], "nice": false, "zero": false},
             "axis": {"orient": "left", "values": [18,18.4,18.8,19.2,19.6,20,20.4,20.8,21.2,21.6,22,22.4,22.8,23.2,23.6,24,24.4,24.8,25.2,25.6,26], "labelExpr": "datum.value % 2 === 0 ? '' + datum.value : ''", "tickSize": {"condition": {"test": "datum.value % 2 === 0", "value": 6}, "value": 3}, "labelFontSize": 10, "labelPadding": 4, "title": "Temp. [°C]", "titleFontSize": 11, "titleX": -35, "titleY": 69, "titleBaseline": "middle", "titleAlign": "center", "titleAngle": -90}},
       "color": {"field": "s", "type": "nominal", "scale": {"domain": ["Eq_T", "SST"], "range": ["#ff0000", "#0000ff"]},
                 "legend": {"orient": "bottom-left", "title": null, "offset": 2, "padding": 0, "symbolSize": 0, "symbolStrokeWidth": 0, "symbolOpacity": 0, "labelOffset": -13, "labelFontSize": 13, "rowPadding": 0,
                            "encode": {"labels": {"update": {"fill": {"signal": "datum.value === 'Eq_T' ? '#ff0000' : '#0000ff'"}}}}}}
     }},
    {"mark": {"type": "errorbar", "thickness": 2},
     "encoding": {
       "x": {"field": "t", "type": "quantitative",
             "axis": {"orient": "top", "values": [0,0.5,1,1.5,2,2.5,3,3.5,4,4.5,5,5.5,6,6.5,7,7.5,8,8.5,9,9.5,10,10.5,11,11.5,12,12.5,13,13.5,14,14.5,15,15.5,16,16.5,17,17.5,18,18.5,19,19.5,20,20.5,21,21.5,22,22.5,23,23.5,24], "labels": false, "tickSize": {"condition": {"test": "datum.value % 1 === 0", "value": 5}, "value": 3}, "title": null}},
       "y": {"field": "v", "type": "quantitative",
             "axis": {"orient": "right", "values": [18,18.4,18.8,19.2,19.6,20,20.4,20.8,21.2,21.6,22,22.4,22.8,23.2,23.6,24,24.4,24.8,25.2,25.6,26], "labelExpr": "datum.value % 2 === 0 ? '' + datum.value : ''", "tickSize": {"condition": {"test": "datum.value % 2 === 0", "value": 6}, "value": 3}, "labelFontSize": 12, "labelPadding": 5, "title": null}},
       "yError": {"field": "e"},
       "color": {"field": "s", "type": "nominal", "legend": null}
     }}
  ],
  "resolve": {"axis": {"x": "independent", "y": "independent"}}
},
{
  "width": 427, "height": 138,
  "data": {"name": "sal"},
  "layer": [
    {"mark": {"type": "tick", "orient": "horizontal", "size": 4, "thickness": 1.5},
     "encoding": {
       "x": {"field": "t", "type": "quantitative", "scale": {"domain": [0, 24], "nice": false, "zero": false},
             "axis": {"orient": "bottom", "values": [0,0.5,1,1.5,2,2.5,3,3.5,4,4.5,5,5.5,6,6.5,7,7.5,8,8.5,9,9.5,10,10.5,11,11.5,12,12.5,13,13.5,14,14.5,15,15.5,16,16.5,17,17.5,18,18.5,19,19.5,20,20.5,21,21.5,22,22.5,23,23.5,24], "labelExpr": "datum.value % 1 === 0 ? '' + datum.value : ''", "tickSize": {"condition": {"test": "datum.value % 1 === 0", "value": 5}, "value": 3}, "labelFontSize": 11, "labelPadding": 9, "title": null}},
       "y": {"field": "v", "type": "quantitative", "scale": {"domain": [32.5, 34.5], "nice": false, "zero": false},
             "axis": {"orient": "left", "values": [32.5,32.75,33,33.25,33.5,33.75,34,34.25,34.5], "labelExpr": "datum.value % 0.5 === 0 ? '' + datum.value : ''", "tickSize": {"condition": {"test": "datum.value % 0.5 === 0", "value": 6}, "value": 3}, "labelFontSize": 10, "labelPadding": 4, "title": "SBE Sal.", "titleFontSize": 11, "titleX": -35, "titleY": 69, "titleBaseline": "middle", "titleAlign": "center", "titleAngle": -90}},
       "color": {"field": "s", "type": "nominal", "scale": {"domain": ["verified", "bubble"], "range": ["#0000ff", "#ff00ff"]},
                 "legend": {"orient": "bottom-left", "title": null, "offset": 2, "padding": 0, "symbolSize": 0, "symbolStrokeWidth": 0, "symbolOpacity": 0, "labelOffset": -13, "labelFontSize": 13, "rowPadding": 0,
                            "encode": {"labels": {"update": {"fill": {"signal": "datum.value === 'verified' ? '#0000ff' : '#ff00ff'"}}}}}}
     }},
    {"mark": {"type": "errorbar", "thickness": 2},
     "encoding": {
       "x": {"field": "t", "type": "quantitative",
             "axis": {"orient": "top", "values": [0,0.5,1,1.5,2,2.5,3,3.5,4,4.5,5,5.5,6,6.5,7,7.5,8,8.5,9,9.5,10,10.5,11,11.5,12,12.5,13,13.5,14,14.5,15,15.5,16,16.5,17,17.5,18,18.5,19,19.5,20,20.5,21,21.5,22,22.5,23,23.5,24], "labels": false, "tickSize": {"condition": {"test": "datum.value % 1 === 0", "value": 5}, "value": 3}, "title": null}},
       "y": {"field": "v", "type": "quantitative",
             "axis": {"orient": "right", "values": [32.5,32.75,33,33.25,33.5,33.75,34,34.25,34.5], "labelExpr": "datum.value % 0.5 === 0 ? '' + datum.value : ''", "tickSize": {"condition": {"test": "datum.value % 0.5 === 0", "value": 6}, "value": 3}, "labelFontSize": 12, "labelPadding": 5, "title": null}},
       "yError": {"field": "e"},
       "color": {"field": "s", "type": "nominal", "legend": null}
     }}
  ],
  "resolve": {"axis": {"x": "independent", "y": "independent"}}
},
{
  "width": 427, "height": 138,
  "data": {"name": "xco2"},
  "layer": [
    {"mark": {"type": "tick", "orient": "horizontal", "size": 4, "thickness": 1.5},
     "encoding": {
       "x": {"field": "t", "type": "quantitative", "scale": {"domain": [0, 24], "nice": false, "zero": false},
             "axis": {"orient": "bottom", "values": [0,0.5,1,1.5,2,2.5,3,3.5,4,4.5,5,5.5,6,6.5,7,7.5,8,8.5,9,9.5,10,10.5,11,11.5,12,12.5,13,13.5,14,14.5,15,15.5,16,16.5,17,17.5,18,18.5,19,19.5,20,20.5,21,21.5,22,22.5,23,23.5,24], "labelExpr": "datum.value % 1 === 0 ? '' + datum.value : ''", "tickSize": {"condition": {"test": "datum.value % 1 === 0", "value": 5}, "value": 3}, "labelFontSize": 11, "labelPadding": 9, "title": null}},
       "y": {"field": "v", "type": "quantitative", "scale": {"domain": [390, 410], "nice": false, "zero": false},
             "axis": {"orient": "left", "values": [390,392.5,395,397.5,400,402.5,405,407.5,410], "labelExpr": "datum.value % 5 === 0 ? '' + datum.value : ''", "tickSize": {"condition": {"test": "datum.value % 5 === 0", "value": 6}, "value": 3}, "labelFontSize": 10, "labelPadding": 4, "title": "Air xCO₂ [ppm]", "titleFontSize": 11, "titleX": -35, "titleY": 69, "titleBaseline": "middle", "titleAlign": "center", "titleAngle": -90}},
       "color": {"field": "s", "type": "nominal", "scale": {"domain": ["ok", "σ ≥ 0.3"], "range": ["#0000ff", "#ff00ff"]},
                 "legend": {"orient": "bottom-left", "values": ["σ ≥ 0.3", "ok"], "title": null, "offset": 2, "padding": 0, "symbolSize": 0, "symbolStrokeWidth": 0, "symbolOpacity": 0, "labelOffset": -13, "labelFontSize": 13, "rowPadding": 0,
                            "encode": {"labels": {"update": {"fill": {"signal": "datum.value === 'ok' ? 'rgba(0,0,0,0)' : '#ff00ff'"}}}}}}
     }},
    {"mark": {"type": "errorbar", "thickness": 2},
     "encoding": {
       "x": {"field": "t", "type": "quantitative",
             "axis": {"orient": "top", "values": [0,0.5,1,1.5,2,2.5,3,3.5,4,4.5,5,5.5,6,6.5,7,7.5,8,8.5,9,9.5,10,10.5,11,11.5,12,12.5,13,13.5,14,14.5,15,15.5,16,16.5,17,17.5,18,18.5,19,19.5,20,20.5,21,21.5,22,22.5,23,23.5,24], "labels": false, "tickSize": {"condition": {"test": "datum.value % 1 === 0", "value": 5}, "value": 3}, "title": null}},
       "y": {"field": "v", "type": "quantitative",
             "axis": {"orient": "right", "values": [390,392.5,395,397.5,400,402.5,405,407.5,410], "labelExpr": "datum.value % 5 === 0 ? '' + datum.value : ''", "tickSize": {"condition": {"test": "datum.value % 5 === 0", "value": 6}, "value": 3}, "labelFontSize": 12, "labelPadding": 5, "title": null}},
       "yError": {"field": "e"},
       "color": {"field": "s", "type": "nominal", "legend": null}
     }}
  ],
  "resolve": {"axis": {"x": "independent", "y": "independent"}}
},
{
  "width": 427, "height": 138,
  "data": {"name": "pco2"},
  "layer": [
    {"mark": {"type": "tick", "orient": "horizontal", "size": 4, "thickness": 1.5, "color": "#ff0000"},
     "encoding": {
       "x": {"field": "t", "type": "quantitative", "scale": {"domain": [0, 24], "nice": false, "zero": false},
             "axis": {"orient": "bottom", "values": [0,0.5,1,1.5,2,2.5,3,3.5,4,4.5,5,5.5,6,6.5,7,7.5,8,8.5,9,9.5,10,10.5,11,11.5,12,12.5,13,13.5,14,14.5,15,15.5,16,16.5,17,17.5,18,18.5,19,19.5,20,20.5,21,21.5,22,22.5,23,23.5,24], "labelExpr": "datum.value % 1 === 0 ? '' + datum.value : ''", "tickSize": {"condition": {"test": "datum.value % 1 === 0", "value": 5}, "value": 3}, "labelFontSize": 11, "labelPadding": 9, "title": "Hours (GMT)", "titleFontSize": 12, "titlePadding": 2}},
       "y": {"field": "v", "type": "quantitative", "scale": {"domain": [280, 380], "nice": false, "zero": false},
             "axis": {"orient": "left", "values": [280,290,300,310,320,330,340,350,360,370,380], "labelExpr": "datum.value % 20 === 0 ? '' + datum.value : ''", "tickSize": {"condition": {"test": "datum.value % 20 === 0", "value": 6}, "value": 3}, "labelFontSize": 10, "labelPadding": 4, "title": "ρCO₂ [μ atm]", "titleFontSize": 11, "titleX": -35, "titleY": 69, "titleBaseline": "middle", "titleAlign": "center", "titleAngle": -90}}
     }},
    {"mark": {"type": "errorbar", "thickness": 2, "color": "#ff0000"},
     "encoding": {
       "x": {"field": "t", "type": "quantitative",
             "axis": {"orient": "top", "values": [0,0.5,1,1.5,2,2.5,3,3.5,4,4.5,5,5.5,6,6.5,7,7.5,8,8.5,9,9.5,10,10.5,11,11.5,12,12.5,13,13.5,14,14.5,15,15.5,16,16.5,17,17.5,18,18.5,19,19.5,20,20.5,21,21.5,22,22.5,23,23.5,24], "labels": false, "tickSize": {"condition": {"test": "datum.value % 1 === 0", "value": 5}, "value": 3}, "title": null}},
       "y": {"field": "v", "type": "quantitative",
             "axis": {"orient": "right", "values": [280,290,300,310,320,330,340,350,360,370,380], "labelExpr": "datum.value % 20 === 0 ? '' + datum.value : ''", "tickSize": {"condition": {"test": "datum.value % 20 === 0", "value": 6}, "value": 3}, "labelFontSize": 12, "labelPadding": 5, "title": null}},
       "yError": {"field": "e"}
     }}
  ],
  "resolve": {"axis": {"x": "independent", "y": "independent"}}
}
],
"spacing": 34,
"bounds": "flush",
"resolve": {"scale": {"color": "independent"}, "legend": {"color": "independent"}}
}
